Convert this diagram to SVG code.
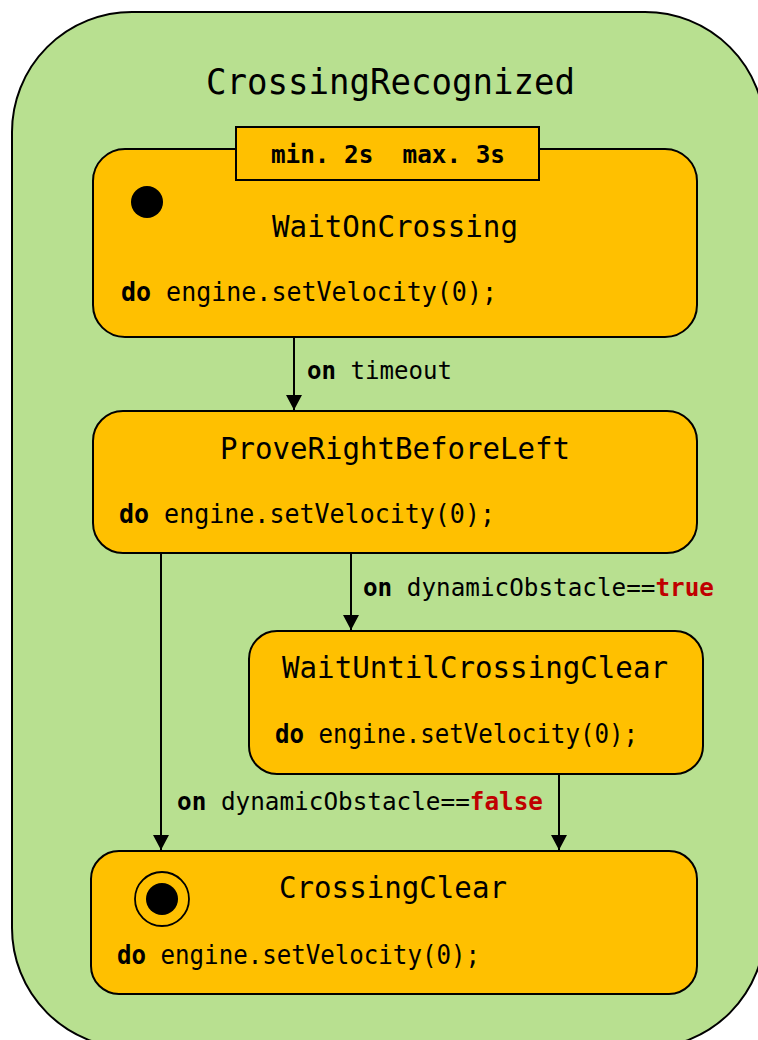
<svg xmlns="http://www.w3.org/2000/svg" width="758" height="1040" viewBox="0 0 758 1040">
  <style>
    .mono { font-family: "DejaVu Sans Mono", "Liberation Mono", monospace; fill: #000; }
    .state { fill: #FFC000; stroke: #000; stroke-width: 2; }
    .name { font-size: 31px; text-anchor: start; }
    .act { font-size: 26px; }
    .lbl { font-size: 25px; }
    .kw { font-weight: bold; }
    .lit { font-weight: bold; fill: #C00000; }
    .edge { stroke: #000; stroke-width: 2; fill: none; marker-end: url(#arrow); }
  </style>
  <defs>
    <marker id="arrow" markerUnits="userSpaceOnUse" markerWidth="16" markerHeight="16" refX="15" refY="8" orient="auto">
      <path d="M0,0 L15,8 L0,16 Z" fill="#000"/>
    </marker>
  </defs>

  <!-- composite state -->
  <g id="CrossingRecognized">
    <rect x="12" y="12" width="753" height="1036" rx="120" ry="120" fill="#B8E090" stroke="#000" stroke-width="2"/>
    <text class="mono" x="206" y="94" font-size="36" textLength="369" lengthAdjust="spacingAndGlyphs">CrossingRecognized</text>
  </g>

  <!-- WaitOnCrossing -->
  <g id="WaitOnCrossing">
    <rect class="state" x="93" y="149" width="604" height="188" rx="32" ry="32"/>
    <rect x="236" y="127" width="303" height="53" fill="#FFC000" stroke="#000" stroke-width="2"/>
    <text class="mono kw" x="271" y="163" font-size="25" textLength="234" lengthAdjust="spacingAndGlyphs" xml:space="preserve">min. 2s  max. 3s</text>
    <circle cx="147" cy="202" r="16" fill="#000"/>
    <text class="mono name" x="272" y="237" textLength="246" lengthAdjust="spacingAndGlyphs">WaitOnCrossing</text>
    <text class="mono act" x="121" y="301" textLength="376" lengthAdjust="spacingAndGlyphs"><tspan class="kw">do</tspan> engine.setVelocity(0);</text>
  </g>

  <!-- ProveRightBeforeLeft -->
  <g id="ProveRightBeforeLeft">
    <rect class="state" x="93" y="411" width="604" height="142" rx="30" ry="30"/>
    <text class="mono name" x="220" y="459" textLength="350" lengthAdjust="spacingAndGlyphs">ProveRightBeforeLeft</text>
    <text class="mono act" x="119" y="523" textLength="376" lengthAdjust="spacingAndGlyphs"><tspan class="kw">do</tspan> engine.setVelocity(0);</text>
  </g>

  <!-- WaitUntilCrossingClear -->
  <g id="WaitUntilCrossingClear">
    <rect class="state" x="249" y="631" width="454" height="143" rx="28" ry="28"/>
    <text class="mono name" x="282" y="678" textLength="386" lengthAdjust="spacingAndGlyphs">WaitUntilCrossingClear</text>
    <text class="mono act" x="275" y="743" textLength="363" lengthAdjust="spacingAndGlyphs"><tspan class="kw">do</tspan> engine.setVelocity(0);</text>
  </g>

  <!-- CrossingClear -->
  <g id="CrossingClear">
    <rect class="state" x="91" y="851" width="606" height="143" rx="28" ry="28"/>
    <circle cx="162" cy="899" r="27" fill="none" stroke="#000" stroke-width="1.8"/>
    <circle cx="162" cy="899" r="16" fill="#000"/>
    <text class="mono name" x="279" y="898" textLength="228" lengthAdjust="spacingAndGlyphs">CrossingClear</text>
    <text class="mono act" x="117" y="964" textLength="363" lengthAdjust="spacingAndGlyphs"><tspan class="kw">do</tspan> engine.setVelocity(0);</text>
  </g>

  <!-- transitions -->
  <g id="connectors">
    <line class="edge" x1="294" y1="338" x2="294" y2="410"/>
    <line class="edge" x1="351" y1="554" x2="351" y2="630"/>
    <line class="edge" x1="161" y1="554" x2="161" y2="850"/>
    <line class="edge" x1="559" y1="775" x2="559" y2="850"/>
    <text class="mono lbl" x="307" y="379" textLength="145" lengthAdjust="spacingAndGlyphs"><tspan class="kw">on</tspan> timeout</text>
    <text class="mono lbl" x="363" y="596" textLength="351" lengthAdjust="spacingAndGlyphs"><tspan class="kw">on</tspan> dynamicObstacle==<tspan class="lit">true</tspan></text>
    <text class="mono lbl" x="177" y="810" textLength="366" lengthAdjust="spacingAndGlyphs"><tspan class="kw">on</tspan> dynamicObstacle==<tspan class="lit">false</tspan></text>
  </g>
</svg>
